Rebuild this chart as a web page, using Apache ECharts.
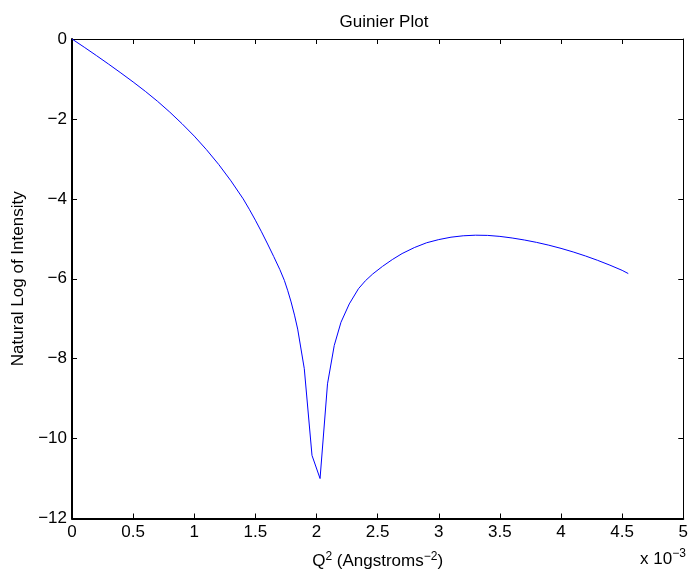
<!DOCTYPE html>
<html>
<head>
<meta charset="utf-8">
<script src="https://cdn.jsdelivr.net/npm/echarts@6/dist/echarts.min.js"></script>
<style>
  html, body { margin: 0; padding: 0; background: #fff; }
  #chart { width: 691px; height: 575px; }
</style>
</head>
<body>
<div id="chart"></div>
<script>
// Q^2 in units of 1e-3 Angstrom^-2
const q2 = [0, 0.1, 0.2, 0.3, 0.4, 0.5, 0.6, 0.7, 0.8, 0.9, 1.0, 1.1, 1.2, 1.3, 1.4, 1.45,
  1.5, 1.55, 1.6, 1.65, 1.7, 1.737, 1.765, 1.792, 1.82, 1.846, 1.90, 1.963, 2.029, 2.09,
  2.145, 2.20, 2.268, 2.343, 2.40, 2.46, 2.54, 2.62, 2.70, 2.80, 2.90, 3.00, 3.10, 3.20,
  3.30, 3.40, 3.50, 3.60, 3.70, 3.80, 3.90, 4.00, 4.10, 4.20, 4.30, 4.40, 4.50, 4.55];
// ln(I)
const lnI = [0, -0.205, -0.415, -0.63, -0.85, -1.075, -1.31, -1.56, -1.83, -2.12, -2.43,
  -2.77, -3.14, -3.55, -4.00, -4.26, -4.535, -4.825, -5.13, -5.445, -5.77, -6.04, -6.30,
  -6.58, -6.91, -7.26, -8.25, -10.42, -11.0, -8.63, -7.67, -7.09, -6.63, -6.25, -6.05,
  -5.88, -5.69, -5.52, -5.37, -5.22, -5.10, -5.02, -4.96, -4.925, -4.91, -4.915, -4.94,
  -4.98, -5.03, -5.09, -5.16, -5.24, -5.33, -5.43, -5.54, -5.66, -5.79, -5.87];
const xTicks = [0, 0.5, 1, 1.5, 2, 2.5, 3, 3.5, 4, 4.5, 5];
const yTicks = [0, -2, -4, -6, -8, -10, -12];

const FONT = 'Liberation Sans';
const FS = 17;
const chart = echarts.init(document.getElementById('chart'), null, { renderer: 'canvas' });

// frame axes: ticks point into the plot on all four sides
function frame(width) {
  return {
    axisLine: { show: true, onZero: false, lineStyle: { color: '#000', width: width } },
    axisTick: { show: true, inside: true, length: 5, lineStyle: { color: '#000', width: 1 } },
    splitLine: { show: false }
  };
}
const minus = v => (v < 0 ? '\u2212' + String(-v) : String(v));
const supStyle = { fontFamily: FONT, fontSize: 12, verticalAlign: 'top', padding: [0, 0, 10, 0] };

chart.setOption({
  animation: false,
  backgroundColor: '#fff',
  title: {
    text: 'Guinier Plot',
    left: 379, top: 9, textAlign: 'center',
    textStyle: { fontFamily: FONT, fontSize: FS, fontWeight: 'normal', color: '#000' }
  },
  grid: { left: 72, right: 6, top: 39, bottom: 54 },
  xAxis: [
    Object.assign({
      type: 'value', min: 0, max: 5, interval: 0.5, position: 'bottom',
      axisLabel: { fontFamily: FONT, fontSize: FS, color: '#000', margin: 5,
        formatter: v => minus(xTicks.find(t => Math.abs(t - v) < 1e-9) ?? v) },
      name: 'Q{sup|2} (Angstroms{sup|\u22122})',
      nameLocation: 'middle', nameGap: 32,
      nameTextStyle: {
        fontFamily: FONT, fontSize: FS, color: '#000',
        rich: { sup: Object.assign({ color: '#000' }, supStyle) }
      }
    }, frame(2)),
    Object.assign({
      type: 'value', min: 0, max: 5, interval: 0.5, position: 'top',
      axisLabel: { show: false }
    }, frame(1))
  ],
  yAxis: [
    Object.assign({
      type: 'value', min: -12, max: 0, interval: 2, position: 'left',
      axisLabel: { fontFamily: FONT, fontSize: FS, color: '#000', margin: 5,
        formatter: v => minus(yTicks.find(t => t === v) ?? v) },
      name: 'Natural Log of Intensity',
      nameLocation: 'middle', nameGap: 44, nameRotate: 90,
      nameTextStyle: { fontFamily: FONT, fontSize: FS, color: '#000' }
    }, frame(2)),
    Object.assign({
      type: 'value', min: -12, max: 0, interval: 2, position: 'right',
      axisLabel: { show: false }
    }, frame(1))
  ],
  graphic: [{
    type: 'text', left: 640, top: 548,
    style: {
      text: 'x 10{sup|\u22123}',
      font: FS + 'px ' + FONT, fill: '#000',
      rich: { sup: Object.assign({ fill: '#000' }, supStyle) }
    }
  }],
  series: [{
    type: 'line',
    data: q2.map((x, i) => [x, lnI[i]]),
    showSymbol: false,
    smooth: false,
    lineStyle: { color: '#0000ff', width: 1 },
    clip: true
  }]
});
</script>
</body>
</html>
